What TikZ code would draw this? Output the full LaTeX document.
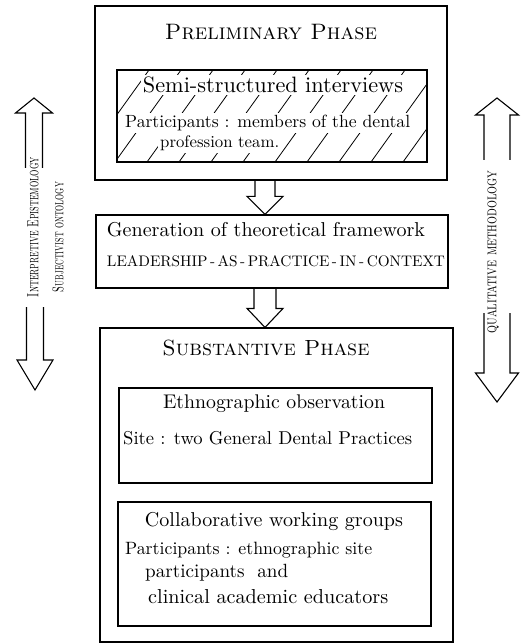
\documentclass[tikz,border=0pt]{standalone}
\usepackage{graphicx}
\usetikzlibrary{calc}

% scale a piece of text to a given width (in pt)
\newcommand\fitw[2]{\resizebox{#1pt}{!}{#2}}
% scale a piece of text to a given width and height (in pt)
\newcommand\fitwh[3]{\resizebox{#1pt}{#2pt}{#3}}

% open-ended hollow block arrow: #1 tail, #2 tip, #3 shaft half-width,
% #4 head half-width, #5 signed head length (positive = pointing down)
\newcommand\hollowarrow[5]{%
  \draw[blockarrow] let \p1=(#1), \p2=(#2) in
    (\x2-#3pt,\y1) -- (\x2-#3pt,\y2+#5pt) -- (\x2-#4pt,\y2+#5pt) -- (\x2,\y2)
    -- (\x2+#4pt,\y2+#5pt) -- (\x2+#3pt,\y2+#5pt) -- (\x2+#3pt,\y1);}

\tikzset{
  panel/.style={draw, line width=1.1pt, inner sep=0pt},
  txt/.style={inner sep=0pt},
  hatchtxt/.style={inner sep=2pt, fill=white},
  hatchline/.style={line width=0.8pt},
  blockarrow/.style={line width=1.1pt, line join=miter},
}

\begin{document}
\begin{tikzpicture}[x=1pt,y=-1pt]
\useasboundingbox (0,0) rectangle (525,644);

% ---- preliminary phase ----
\node[panel, minimum width=352pt, minimum height=174pt] (prelim) at (271,93) {};
\node[txt] (prelimT) at (271,32) {\fitw{212}{\textsc{Preliminary Phase}}};
\node[panel, minimum width=310pt, minimum height=92pt] (interv) at (272,116) {};
\begin{scope}
  \clip (interv.south west) rectangle (interv.north east);
  \foreach \i in {0,...,12}
    \draw[hatchline] (51+\i*32,162) -- ++(66,-92);
\end{scope}
\node[panel, minimum width=310pt, minimum height=92pt] at (interv) {};
\node[hatchtxt] (intervT) at (273,85) {\fitw{260}{Semi-structured interviews}};
\node[hatchtxt, anchor=west] (intervP1) at (123,123) {\fitw{285}{Participants : members of the dental}};
\node[hatchtxt, anchor=west] (intervP2) at (158,143) {\fitw{119}{profession team.}};

% ---- theoretical framework ----
\node[panel, minimum width=352pt, minimum height=73pt] (frame) at (272,251.5) {};
\node[txt] (frameT) at (266,230) {\fitw{318}{Generation of theoretical framework}};
\node[txt] (frameL) at (276,261) {\fitw{338}{LEADERSHIP\,-\,AS\,-\,PRACTICE\,-\,IN\,-\,CONTEXT}};

% ---- substantive phase ----
\node[panel, minimum width=353pt, minimum height=314pt] (subst) at (276.5,485) {};
\node[txt] (substT) at (266,348) {\fitw{207}{\textsc{Substantive Phase}}};
\node[panel, minimum width=313pt, minimum height=95pt] (ethno) at (275.5,435.5) {};
\node[txt] (ethnoT) at (274,404) {\fitw{222}{Ethnographic observation}};
\node[txt, anchor=west] (ethnoS) at (123,438) {\fitw{289}{Site : two General Dental Practices}};
\node[panel, minimum width=313pt, minimum height=124pt] (collab) at (274.5,564) {};
\node[txt] (collabT) at (274,521) {\fitw{258}{Collaborative working groups}};
\node[txt, anchor=west] (collabP1) at (125,550) {\fitw{247}{Participants : ethnographic site}};
\node[txt, anchor=west] (collabP2) at (145,573) {\fitw{143}{participants \ and}};
\node[txt, anchor=west] (collabP3) at (148,597) {\fitw{240}{clinical academic educators}};

% ---- flow between the phases ----
\coordinate (axis) at (265,0);
\hollowarrow{prelim.south -| axis}{frame.north -| axis}{10}{18}{18}
\hollowarrow{frame.south -| axis}{subst.north -| axis}{11}{18}{19}

% ---- philosophical stance (left) ----
\coordinate (lupTail) at (35,168);
\coordinate (lupTip) at (34,98);
\coordinate (ldnTail) at (35,307);
\coordinate (ldnTip) at (35,390);
\hollowarrow{lupTail}{lupTip}{8.5}{18.5}{-15}
\hollowarrow{ldnTail}{ldnTip}{8.5}{18}{30}
\node[txt, rotate=90] (epist) at (33,227) {\fitwh{140}{11}{\textsc{Interpretive Epistemology}}};
\node[txt, rotate=90] (onto) at (58,237) {\fitwh{110}{11}{\textsc{Subjectivist ontology}}};

% ---- methodology (right) ----
\coordinate (rupTail) at (498,160);
\coordinate (rupTip) at (497,98);
\coordinate (rdnTail) at (498,313);
\coordinate (rdnTip) at (497,402);
\hollowarrow{rupTail}{rupTip}{13}{21.5}{-17}
\hollowarrow{rdnTail}{rdnTip}{13}{21.5}{29}
\node[txt, rotate=90] (method) at (493,252) {\fitwh{163}{9}{\textsc{qualitative methodology}}};
\end{tikzpicture}
\end{document}
